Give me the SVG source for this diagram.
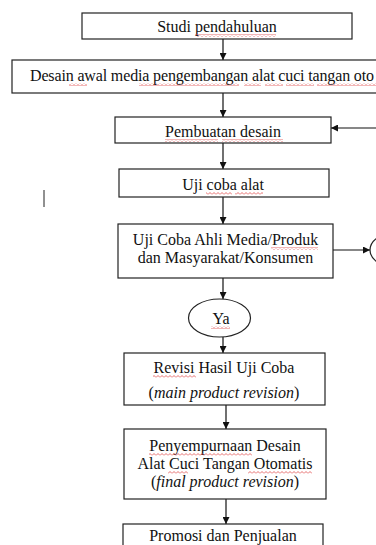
<svg xmlns="http://www.w3.org/2000/svg" width="376" height="545" viewBox="0 0 376 545">
<defs>
<style>
.box{fill:#fff;stroke:#222;stroke-width:1.2}
.t{font-family:"Liberation Serif","Times New Roman",serif;font-size:16px;fill:#111;text-anchor:middle}
.i{font-style:italic}
.c{stroke:#111;stroke-width:1.2;fill:none}
.sq{fill:url(#wave)}
</style>
<marker id="ah" viewBox="0 0 10 10" refX="10" refY="5" markerWidth="7" markerHeight="7" markerUnits="userSpaceOnUse" orient="auto">
<path d="M0,0 L10,5 L0,10 Z" fill="#111"/>
</marker>
<pattern id="wave" width="4" height="3" patternUnits="userSpaceOnUse">
<path d="M0,2.5 L2,0.5 L4,2.5" fill="none" stroke="#e04848" stroke-width="0.8"/>
</pattern>
</defs>
<rect width="376" height="545" fill="#fff"/>
<g id="connectors">
<line class="c" x1="223" y1="39" x2="223" y2="60" marker-end="url(#ah)"/>
<line class="c" x1="223" y1="93" x2="223" y2="117" marker-end="url(#ah)"/>
<line class="c" x1="376" y1="128" x2="331" y2="128" marker-end="url(#ah)"/>
<line class="c" x1="223" y1="143" x2="223" y2="169" marker-end="url(#ah)"/>
<line class="c" x1="223" y1="197" x2="223" y2="224" marker-end="url(#ah)"/>
<line class="c" x1="333" y1="250" x2="370" y2="250" marker-end="url(#ah)"/>
<line class="c" x1="223" y1="278" x2="223" y2="299" marker-end="url(#ah)"/>
<line class="c" x1="223" y1="337" x2="223" y2="353" marker-end="url(#ah)"/>
<line class="c" x1="226" y1="405" x2="226" y2="429" marker-end="url(#ah)"/>
<line class="c" x1="226" y1="499" x2="226" y2="524" marker-end="url(#ah)"/>
</g>
<g id="n1">
<rect class="box" x="82" y="13" width="270" height="26"/>
<text class="t" x="217" y="32">Studi pendahuluan</text>
</g>
<g id="n2">
<rect class="box" x="12" y="60" width="380" height="33"/>
<text class="t" x="30" y="81" style="text-anchor:start" textLength="344" lengthAdjust="spacing">Desain awal media pengembangan alat cuci tangan oto</text>
</g>
<g id="n3">
<rect class="box" x="115" y="117" width="216" height="26"/>
<text class="t" x="223" y="137">Pembuatan desain</text>
</g>
<g id="n4">
<rect class="box" x="119" y="169" width="210" height="28"/>
<text class="t" x="223" y="190">Uji coba alat</text>
</g>
<g id="n5">
<rect class="box" x="118" y="224" width="215" height="54"/>
<text class="t" x="225.5" y="245">Uji Coba Ahli Media/Produk</text>
<text class="t" x="225.5" y="263">dan Masyarakat/Konsumen</text>
</g>
<g id="n6">
<ellipse class="box" cx="401" cy="250" rx="31" ry="19"/>
</g>
<g id="n7">
<ellipse class="box" cx="219.5" cy="318" rx="31" ry="19"/>
<text class="t" x="221" y="324">Ya</text>
</g>
<g id="n8">
<rect class="box" x="124" y="353" width="201" height="52"/>
<text class="t" x="224" y="373">Revisi Hasil Uji Coba</text>
<text class="t" x="224" y="398">(<tspan class="i">main product revision</tspan>)</text>
</g>
<g id="n9">
<rect class="box" x="124" y="429" width="202" height="70"/>
<text class="t" x="225" y="451">Penyempurnaan Desain</text>
<text class="t" x="225" y="469">Alat Cuci Tangan Otomatis</text>
<text class="t" x="225" y="487">(<tspan class="i">final product revision</tspan>)</text>
</g>
<g id="n10">
<rect class="box" x="123" y="524" width="200" height="40"/>
<text class="t" x="223" y="541">Promosi dan Penjualan</text>
</g>
<g id="spellcheck">
<rect class="sq" x="195" y="34" width="81" height="3"/>
<rect class="sq" x="69" y="83" width="18" height="3"/>
<rect class="sq" x="139" y="83" width="100" height="3"/>
<rect class="sq" x="244" y="83" width="17" height="3"/>
<rect class="sq" x="265" y="83" width="18" height="3"/>
<rect class="sq" x="286" y="83" width="28" height="3"/>
<rect class="sq" x="317" y="83" width="59" height="3"/>
<rect class="sq" x="165" y="139" width="53" height="3"/>
<rect class="sq" x="222" y="139" width="61" height="3"/>
<rect class="sq" x="206" y="192" width="26" height="3"/>
<rect class="sq" x="235" y="192" width="28" height="3"/>
<rect class="sq" x="271" y="247" width="47" height="3"/>
<rect class="sq" x="211" y="326" width="19" height="3"/>
<rect class="sq" x="153" y="375" width="43" height="3"/>
<rect class="sq" x="149" y="453" width="103" height="3"/>
<rect class="sq" x="168" y="471" width="20" height="3"/>
<rect class="sq" x="248" y="471" width="64" height="3"/>
</g>
<line x1="44" y1="190" x2="44" y2="207" stroke="#222" stroke-width="1"/>
</svg>
